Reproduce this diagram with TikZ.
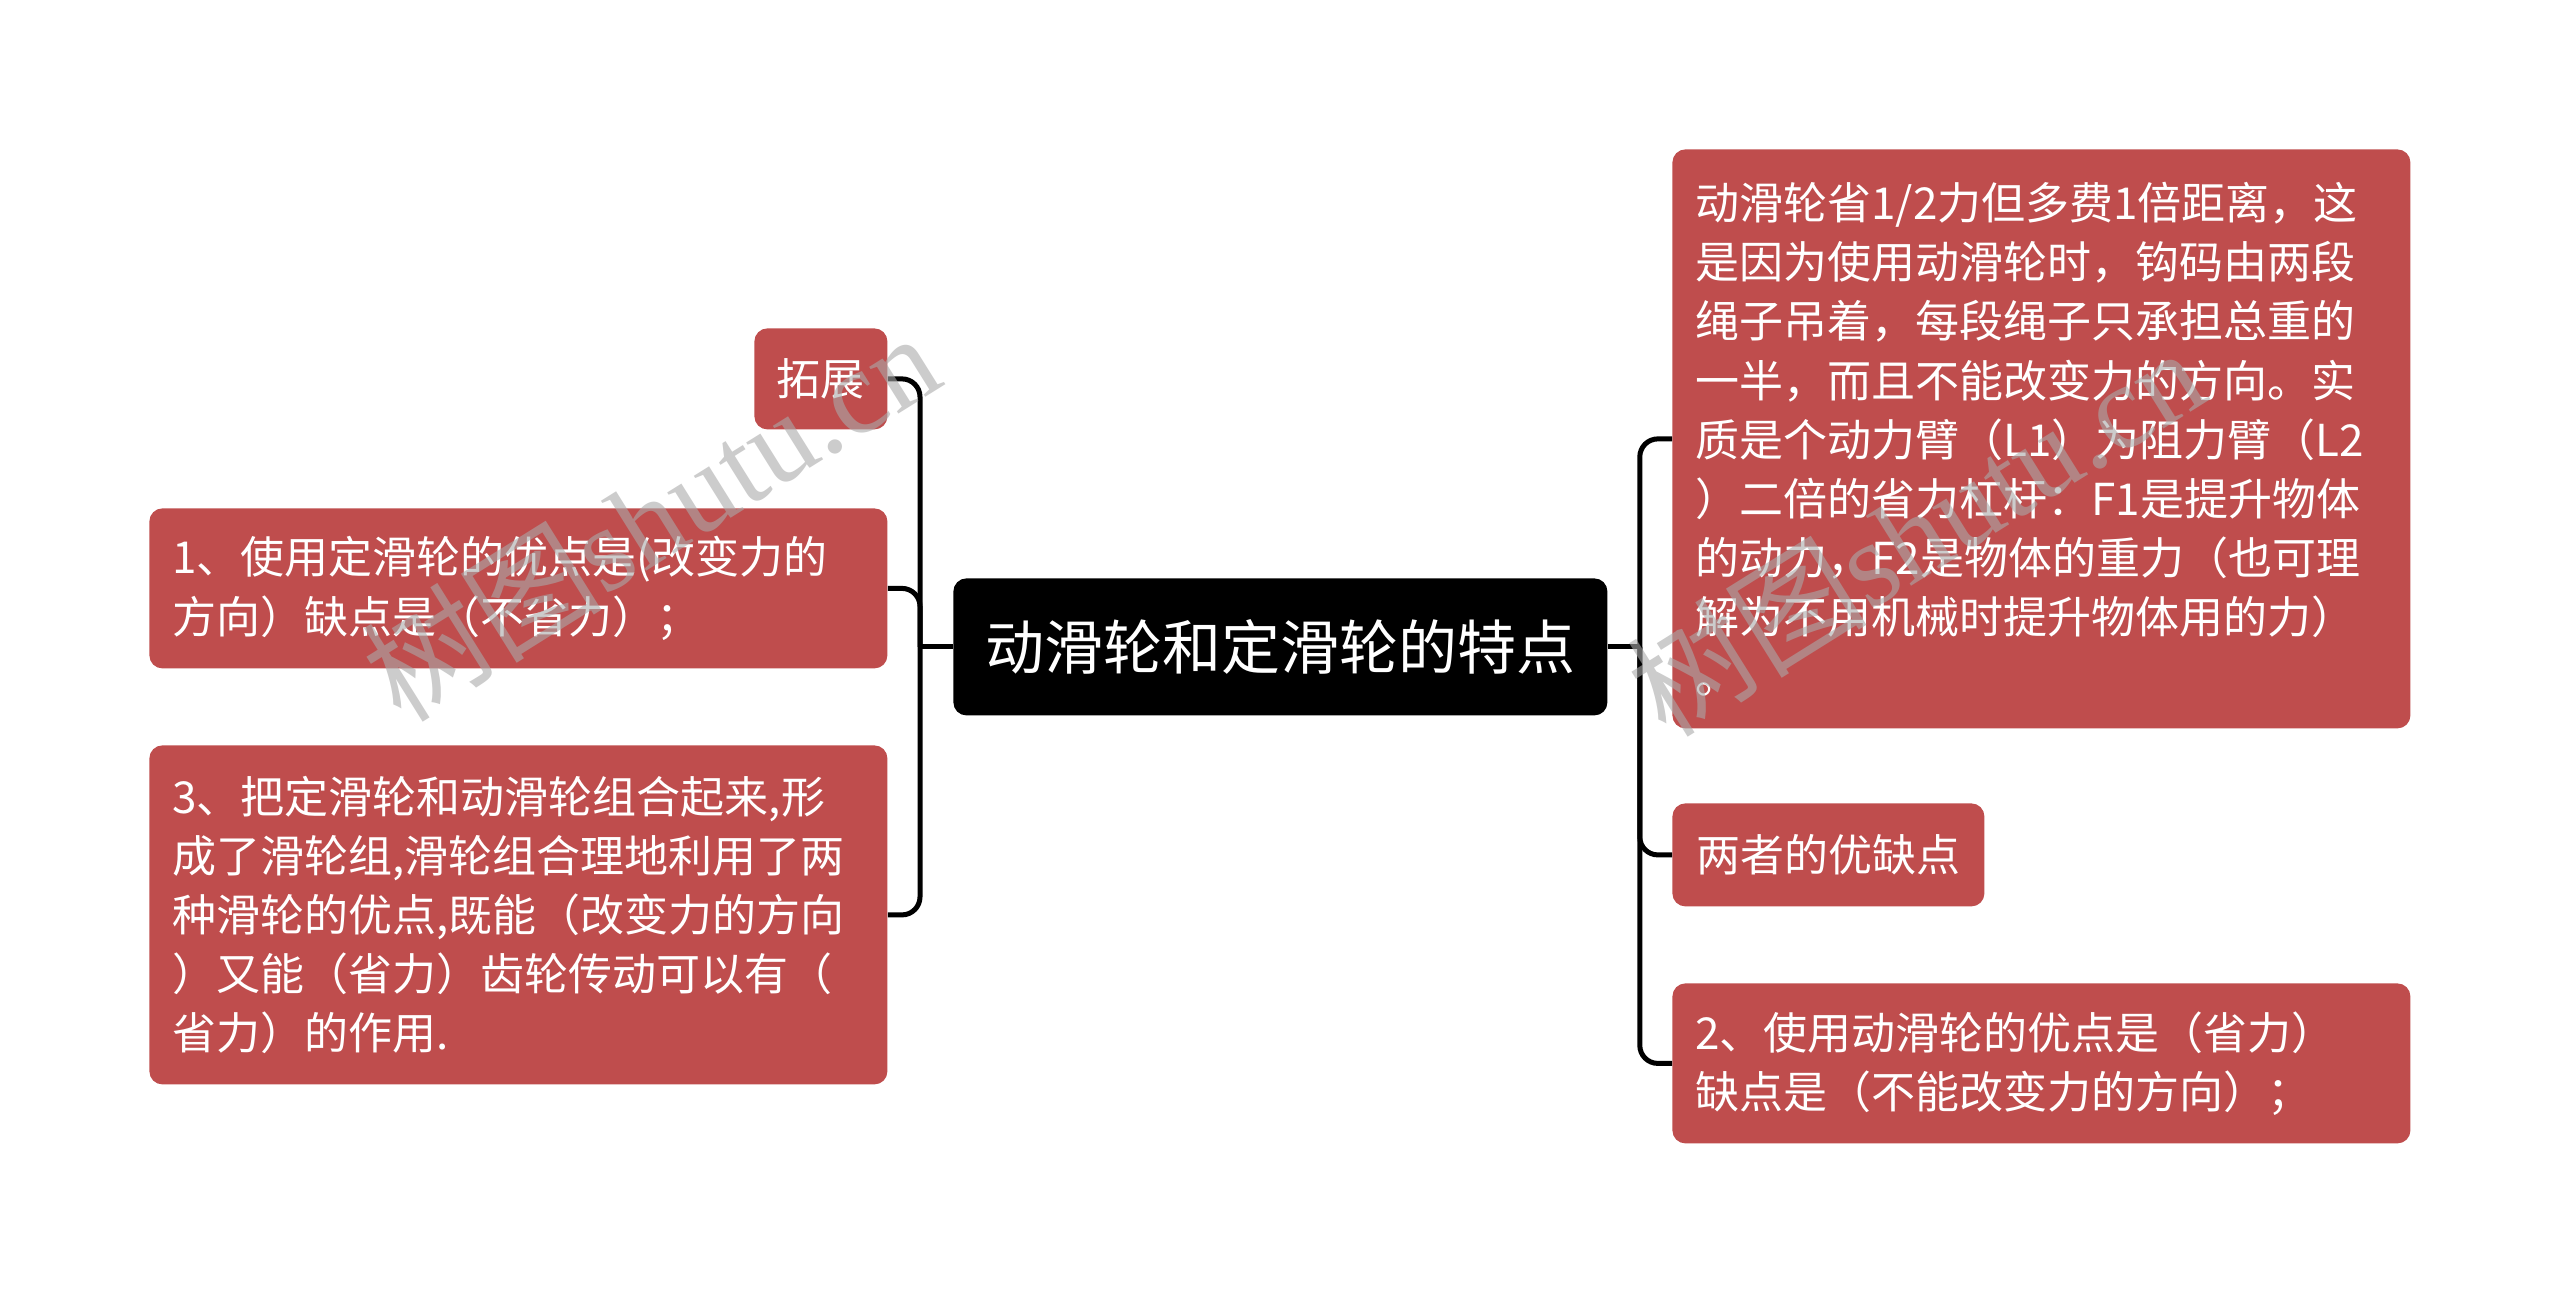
\documentclass[tikz,border=0pt]{standalone}
\usepackage{fontspec}
\setmainfont{Noto Sans CJK SC}
\newfontfamily\wmserif{Liberation Serif}
\definecolor{boxred}{RGB}{191,77,77}
\definecolor{wmgray}{RGB}{170,170,170}
\begin{document}
\begin{tikzpicture}[x=0.5pt,y=-0.5pt,
 redbox/.style={fill=boxred,text=white,rounded corners=6.5pt,align=left,inner xsep=11.5pt,inner ysep=0pt,font=\fontsize{22}{29.6}\selectfont,anchor=north west},
 centerbox/.style={fill=black,text=white,rounded corners=6.5pt,inner sep=0pt,anchor=north west,font=\fontsize{29.5}{32}\selectfont},
 conn/.style={line width=2.5pt,draw=black,rounded corners=9pt},
 wm/.style={text=wmgray,text opacity=0.6,rotate=32,font=\fontsize{60}{64}\selectfont}]
\useasboundingbox (0,0) rectangle (2560,1295);
\fill[white] (0,0) rectangle (2560,1295);

\node[centerbox,minimum width=327pt,minimum height=68.5pt] (c) at (953,578) {动滑轮和定滑轮的特点};

\node[redbox,minimum width=66.5pt,minimum height=50.5pt,inner xsep=0pt,align=center] (tz) at (754,328) {拓展};
\node[redbox,text width=346pt,minimum height=80pt] (l1) at (149,508) {1、使用定滑轮的优点是(改变力的\\方向）缺点是（不省力）；};
\node[redbox,text width=346pt,minimum height=169.5pt] (l3) at (149,745) {3、把定滑轮和动滑轮组合起来,形\\成了滑轮组,滑轮组合理地利用了两\\种滑轮的优点,既能（改变力的方向\\）又能（省力）齿轮传动可以有（\\省力）的作用.};

\node[redbox,text width=346pt,minimum height=289.5pt] (r1) at (1672,149) {动滑轮省1/2力但多费1倍距离，这\\是因为使用动滑轮时，钩码由两段\\绳子吊着，每段绳子只承担总重的\\一半，而且不能改变力的方向。实\\质是个动力臂（L1）为阻力臂（L2\\）二倍的省力杠杆：F1是提升物体\\的动力，F2是物体的重力（也可理\\解为不用机械时提升物体用的力）\\。};
\node[redbox,minimum width=156pt,minimum height=51.5pt] (r2) at (1672,803) {两者的优缺点};
\node[redbox,text width=346pt,minimum height=80pt] (r3) at (1672,983) {2、使用动滑轮的优点是（省力）\\缺点是（不能改变力的方向）；};

\coordinate (lb) at ([xshift=-16.5pt]c.west);
\coordinate (rb) at ([xshift=16pt]c.east);
\draw[conn] (c.west) -- (lb);
\draw[conn] (lb) |- (tz.east);
\draw[conn] (lb) |- (l1.east);
\draw[conn] (lb) |- (l3.east);
\draw[conn] (c.east) -- (rb);
\draw[conn] (rb) |- (r1.west);
\draw[conn] (rb) |- (r2.west);
\draw[conn] (rb) |- (r3.west);

\node[wm] (wm1) at (650,515) {树图{\wmserif shutu.cn}};
\node[wm] (wm2) at (1915,530) {树图{\wmserif shutu.cn}};
\end{tikzpicture}
\end{document}
